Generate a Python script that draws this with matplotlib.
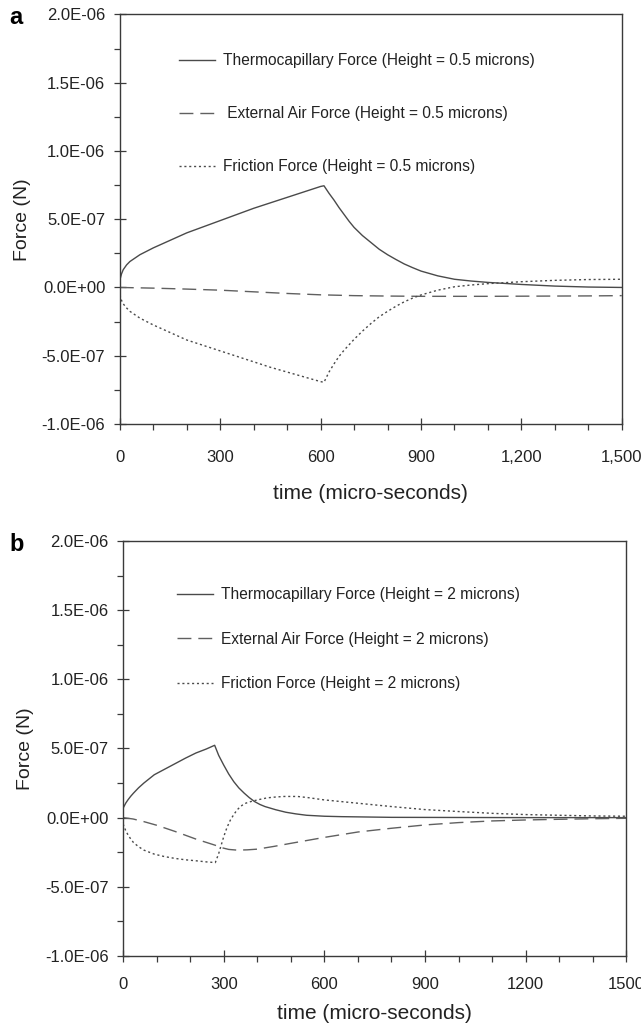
import numpy as np
import matplotlib
matplotlib.use('Agg')
import matplotlib.pyplot as plt
from matplotlib.ticker import MultipleLocator

plt.rcParams['font.family'] = ['Liberation Sans Narrow', 'Liberation Sans', 'DejaVu Sans']

# panel a: height = 0.5 microns
t_a_thermo = [0, 5, 10, 20, 30, 45, 60, 80, 100, 150, 200, 250, 300, 350, 400, 450, 500, 550, 600, 610,
              625, 640, 655, 670, 685, 700, 725, 750, 775, 800, 825, 850, 875, 900, 950, 1000, 1050,
              1100, 1200, 1300, 1400, 1500]
f_a_thermo = [0.55e-7, 1.0e-7, 1.3e-7, 1.65e-7, 1.9e-7, 2.15e-7, 2.4e-7, 2.65e-7, 2.9e-7, 3.45e-7,
              4.0e-7, 4.45e-7, 4.9e-7, 5.35e-7, 5.8e-7, 6.2e-7, 6.6e-7, 7.0e-7, 7.4e-7, 7.45e-7,
              6.9e-7, 6.4e-7, 5.85e-7, 5.35e-7, 4.85e-7, 4.4e-7, 3.8e-7, 3.3e-7, 2.8e-7, 2.4e-7,
              2.05e-7, 1.72e-7, 1.45e-7, 1.2e-7, 0.85e-7, 0.6e-7, 0.47e-7, 0.37e-7, 0.22e-7,
              0.1e-7, 0.03e-7, 0.0]

t_a_air = [0, 100, 200, 300, 400, 500, 600, 700, 800, 900, 1000, 1100, 1200, 1300, 1400, 1500]
f_a_air = [0.0, -0.05e-7, -0.12e-7, -0.2e-7, -0.32e-7, -0.44e-7, -0.54e-7, -0.6e-7, -0.63e-7, -0.65e-7,
           -0.65e-7, -0.65e-7, -0.64e-7, -0.63e-7, -0.62e-7, -0.6e-7]

t_a_fric = [0, 5, 10, 20, 30, 45, 60, 80, 100, 150, 200, 250, 300, 350, 400, 450, 500, 550, 600, 610,
            625, 640, 655, 670, 685, 700, 725, 750, 775, 800, 825, 850, 875, 900, 950, 1000, 1050,
            1100, 1200, 1300, 1400, 1500]
f_a_fric = [-0.55e-7, -0.95e-7, -1.2e-7, -1.5e-7, -1.75e-7, -2.0e-7, -2.25e-7, -2.5e-7, -2.75e-7,
            -3.3e-7, -3.85e-7, -4.25e-7, -4.65e-7, -5.05e-7, -5.45e-7, -5.85e-7, -6.2e-7, -6.55e-7,
            -6.9e-7, -6.95e-7, -6.2e-7, -5.6e-7, -5.05e-7, -4.6e-7, -4.2e-7, -3.8e-7, -3.2e-7,
            -2.65e-7, -2.15e-7, -1.75e-7, -1.38e-7, -1.05e-7, -0.78e-7, -0.55e-7, -0.2e-7, 0.05e-7,
            0.18e-7, 0.28e-7, 0.42e-7, 0.52e-7, 0.58e-7, 0.6e-7]

# panel b: height = 2 microns
t_b_thermo = [0, 8, 15, 23, 31, 46, 62, 93, 124, 155, 186, 217, 248, 273, 285, 300, 315, 330, 345, 361,
              376, 392, 408, 423, 455, 485, 515, 547, 600, 650, 800, 1000, 1200, 1500]
f_b_thermo = [0.68e-7, 1.05e-7, 1.3e-7, 1.55e-7, 1.77e-7, 2.15e-7, 2.5e-7, 3.1e-7, 3.5e-7, 3.9e-7,
              4.3e-7, 4.67e-7, 4.96e-7, 5.23e-7, 4.5e-7, 3.8e-7, 3.15e-7, 2.6e-7, 2.15e-7, 1.77e-7,
              1.45e-7, 1.16e-7, 0.95e-7, 0.8e-7, 0.57e-7, 0.39e-7, 0.27e-7, 0.17e-7, 0.1e-7, 0.07e-7,
              0.02e-7, 0.01e-7, 0.0, 0.0]

t_b_air = [0, 30, 62, 100, 155, 217, 275, 290, 315, 340, 370, 400, 450, 500, 600, 700, 800, 900, 1000,
           1100, 1200, 1300, 1400, 1500]
f_b_air = [0.0, -0.1e-7, -0.29e-7, -0.55e-7, -1.0e-7, -1.55e-7, -2.0e-7, -2.15e-7, -2.3e-7, -2.35e-7,
           -2.33e-7, -2.28e-7, -2.08e-7, -1.86e-7, -1.43e-7, -1.04e-7, -0.77e-7, -0.53e-7, -0.36e-7,
           -0.24e-7, -0.17e-7, -0.12e-7, -0.08e-7, -0.05e-7]

t_b_fric = [0, 8, 15, 23, 31, 46, 62, 93, 124, 155, 186, 217, 248, 275, 285, 300, 310, 320, 330, 340,
            350, 361, 376, 392, 410, 430, 455, 480, 520, 550, 600, 700, 800, 900, 1000, 1100, 1200,
            1300, 1400, 1500]
f_b_fric = [-0.46e-7, -0.95e-7, -1.26e-7, -1.55e-7, -1.8e-7, -2.1e-7, -2.35e-7, -2.64e-7, -2.82e-7,
            -2.95e-7, -3.05e-7, -3.12e-7, -3.2e-7, -3.25e-7, -2.6e-7, -1.38e-7, -0.7e-7, -0.17e-7,
            0.22e-7, 0.56e-7, 0.8e-7, 1.0e-7, 1.13e-7, 1.23e-7, 1.33e-7, 1.43e-7, 1.49e-7, 1.53e-7,
            1.53e-7, 1.45e-7, 1.28e-7, 1.04e-7, 0.8e-7, 0.58e-7, 0.44e-7, 0.31e-7, 0.22e-7, 0.17e-7,
            0.12e-7, 0.1e-7]

y_ticks = [-1.0e-6, -5.0e-7, 0.0, 5.0e-7, 1.0e-6, 1.5e-6, 2.0e-6]
y_tick_labels = ['-1.0E-06', '-5.0E-07', '0.0E+00', '5.0E-07', '1.0E-06', '1.5E-06', '2.0E-06']
x_ticks = [0, 300, 600, 900, 1200, 1500]
x_labels_a = ['0', '300', '600', '900', '1,200', '1,500']
x_labels_b = ['0', '300', '600', '900', '1200', '1500']

labels_a = ['Thermocapillary Force (Height = 0.5 microns)',
            ' External Air Force (Height = 0.5 microns)',
            'Friction Force (Height = 0.5 microns)']
labels_b = ['Thermocapillary Force (Height = 2 microns)',
            'External Air Force (Height = 2 microns)',
            'Friction Force (Height = 2 microns)']

LINE = '#4a4a4a'
AXC = '#3a3a3a'
TXT = '#222222'

fig = plt.figure(figsize=(6.41, 10.34), dpi=100)
ax_a = fig.add_axes([0.187, 0.590, 0.783, 0.396])
ax_b = fig.add_axes([0.192, 0.0755, 0.785, 0.4013])


def style(ax, xlabels, xpad, lpad):
    ax.set_xlim(0, 1500)
    ax.set_ylim(-1.0e-6, 2.0e-6)
    ax.set_xticks(x_ticks)
    ax.set_xticklabels(xlabels)
    ax.set_yticks(y_ticks)
    ax.set_yticklabels(y_tick_labels)
    ax.xaxis.set_minor_locator(MultipleLocator(100))
    ax.yaxis.set_minor_locator(MultipleLocator(2.5e-7))
    ax.tick_params(axis='both', which='major', direction='inout', length=9, width=0.9,
                   color=AXC, labelsize=12, labelcolor=TXT)
    ax.tick_params(axis='both', which='minor', direction='out', length=4, width=0.9, color=AXC)
    ax.tick_params(axis='x', which='major', pad=xpad)
    ax.tick_params(axis='y', which='major', pad=6)
    for sp in ax.spines.values():
        sp.set_color(AXC)
        sp.set_linewidth(1.0)
    ax.set_ylabel('Force (N)', fontsize=14, color=TXT, labelpad=8)
    ax.set_xlabel('time (micro-seconds)', fontsize=15, color=TXT, labelpad=lpad)


ax_a.plot(t_a_thermo, f_a_thermo, color=LINE, lw=1.0, ls='-', label=labels_a[0])
ax_a.plot(t_a_air, f_a_air, color='#606060', lw=1.0, ls=(0, (10, 5)), label=labels_a[1])
ax_a.plot(t_a_fric, f_a_fric, color=LINE, lw=1.0, ls=(0, (1.5, 2)), label=labels_a[2])
style(ax_a, x_labels_a, 14, 14)
ax_a.legend(loc='upper left', bbox_to_anchor=(0.09, 0.94), frameon=False, fontsize=11.2,
            handlelength=2.3, handletextpad=0.5, labelspacing=2.45, labelcolor=TXT)

ax_b.plot(t_b_thermo, f_b_thermo, color=LINE, lw=1.0, ls='-', label=labels_b[0])
ax_b.plot(t_b_air, f_b_air, color='#606060', lw=1.0, ls=(0, (10, 5)), label=labels_b[1])
ax_b.plot(t_b_fric, f_b_fric, color=LINE, lw=1.0, ls=(0, (1.5, 2)), label=labels_b[2])
style(ax_b, x_labels_b, 11, 8)
ax_b.legend(loc='upper left', bbox_to_anchor=(0.08, 0.922), frameon=False, fontsize=11.2,
            handlelength=2.3, handletextpad=0.5, labelspacing=1.9, labelcolor=TXT)

fig.text(0.015, 0.983, 'a', fontsize=17, fontweight='bold', va='center', ha='left')
fig.text(0.015, 0.473, 'b', fontsize=17, fontweight='bold', va='center', ha='left')

fig.savefig('out.png', dpi=100)
